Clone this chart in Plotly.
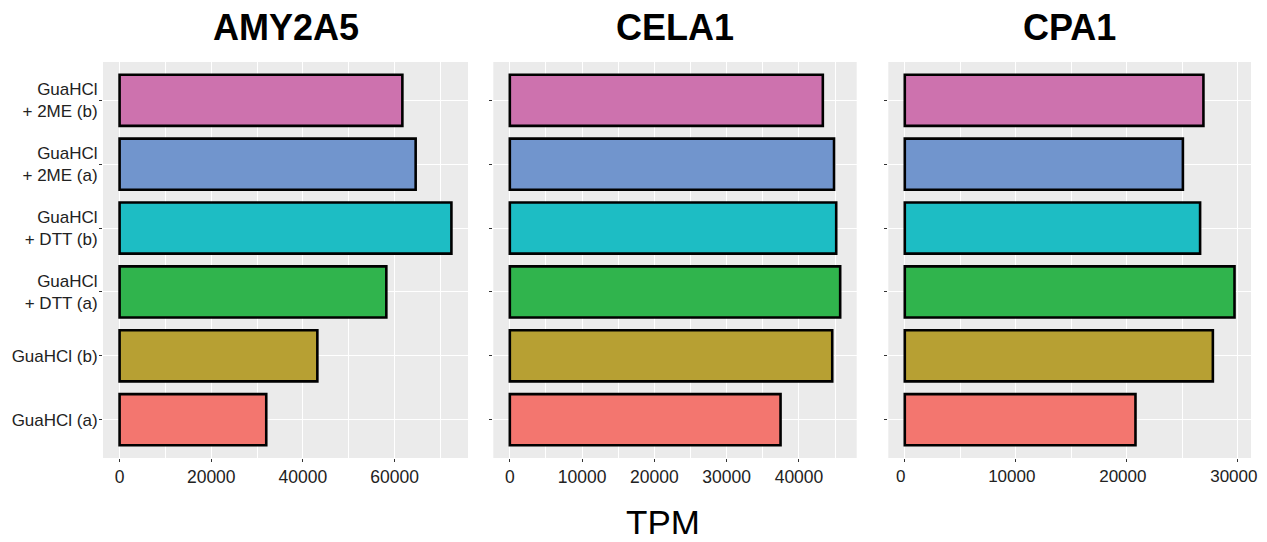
import plotly.graph_objects as go

genes = ["AMY2A5", "CELA1", "CPA1"]
categories = ["GuaHCl (a)", "GuaHCl (b)", "GuaHCl<br>+ DTT (a)", "GuaHCl<br>+ DTT (b)",
              "GuaHCl<br>+ 2ME (a)", "GuaHCl<br>+ 2ME (b)"]
amy2a5 = [32000, 43150, 58200, 72400, 64600, 61700]
cela1 = [37450, 44600, 45700, 45150, 44850, 43300]
cpa1 = [20780, 27750, 29700, 26600, 25050, 26900]
colors = ["#F3766F", "#B7A033", "#30B44D", "#1DBDC4", "#7195CD", "#CD72AE"]
tickvals_list = [[0, 20000, 40000, 60000], [0, 10000, 20000, 30000, 40000], [0, 10000, 20000, 30000]]

OFF = 8  # browser default page margin
W, H = 1267 - OFF, 542 - 2 * OFF
xdoms = [(103, 468), (493.3, 856.7), (888.3, 1251)]
ytop, ybot = 62, 458
FONT = "Liberation Sans, Arial, Helvetica"


def px(x):
    return (x - OFF) / W


def py(y):
    return 1 - (y - OFF) / H


fig = go.Figure()
for i, (g, vals) in enumerate(zip(genes, [amy2a5, cela1, cpa1])):
    ax = "" if i == 0 else str(i + 1)
    fig.add_trace(go.Bar(
        x=vals, y=categories, orientation="h", width=0.8,
        marker=dict(color=colors, line=dict(color="black", width=2.6)),
        xaxis="x" + ax, yaxis="y" + ax, showlegend=False))
    vmax = max(vals)
    tv = tickvals_list[i]
    step = tv[1] - tv[0]
    fig.update_layout(**{
        "xaxis" + ax: dict(
            domain=[px(xdoms[i][0]), px(xdoms[i][1])], anchor="y" + ax, automargin=False,
            range=[-0.05 * vmax, 1.05 * vmax], tickvals=tv, ticktext=[str(v) for v in tv],
            showgrid=True, gridcolor="white", gridwidth=1.2, zeroline=False,
            minor=dict(dtick=step / 2, tick0=step / 2, showgrid=True, gridcolor="white", gridwidth=0.6),
            ticks="outside", ticklen=3, tickcolor="#333333", tickwidth=1,
            ticklabeloverflow="allow", ticklabelshift=(-4 if i == 2 else 0),
            tickfont=dict(family=FONT, size=17.5 if i < 2 else 17, color="#222222"),
            showline=False),
        "yaxis" + ax: dict(
            domain=[py(ybot), py(ytop)], anchor="x" + ax, automargin=False,
            categoryorder="array", categoryarray=categories, range=[-0.6, 5.6],
            showgrid=True, gridcolor="white", gridwidth=1.2, zeroline=False,
            ticks="outside", ticklen=3, tickcolor="#333333", tickwidth=1,
            showticklabels=(i == 0), ticklabelstandoff=-2,
            tickfont=dict(family=FONT, size=17, color="#222222"),
            showline=False),
    })
    fig.add_annotation(text="<b>%s</b>" % g, x=px((xdoms[i][0] + xdoms[i][1]) / 2), y=py(28),
                       xref="paper", yref="paper", showarrow=False, xanchor="center", yanchor="middle",
                       font=dict(family=FONT, size=36, color="black"))

fig.add_annotation(text="TPM", x=px(663), y=py(522), xref="paper", yref="paper",
                   showarrow=False, xanchor="center", yanchor="middle",
                   font=dict(family=FONT, size=35, color="black"))

fig.update_layout(width=W, height=H, margin=dict(l=0, r=0, t=0, b=0, autoexpand=False),
                  paper_bgcolor="white", plot_bgcolor="#EBEBEB", bargap=0.2)
fig.write_html("out.html")
